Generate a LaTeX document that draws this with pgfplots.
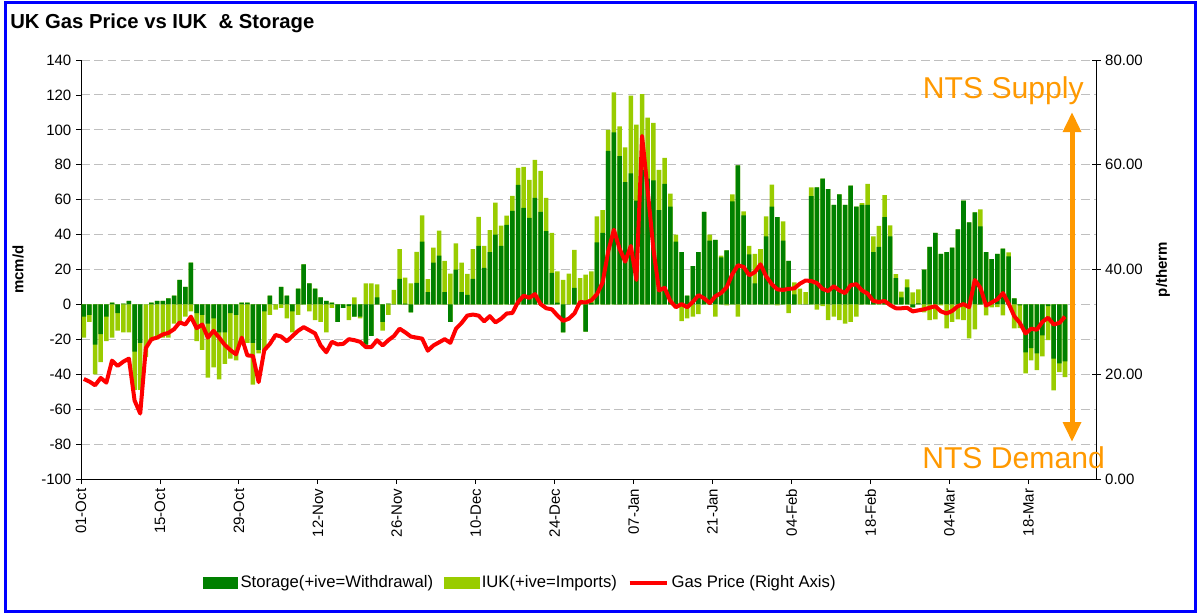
\documentclass[border=0pt]{standalone}
\usepackage{pgfplots}
\pgfplotsset{compat=1.18}
\usepackage{pgfplotstable}
\usepackage{fontspec}
\setmainfont{Liberation Sans}
\usetikzlibrary{arrows.meta}

\definecolor{stor}{RGB}{0,128,0}
\definecolor{iuk}{RGB}{153,204,0}
\definecolor{nts}{RGB}{255,153,0}
\definecolor{framecol}{RGB}{0,0,255}

% d = day from 01-Oct, S = storage, I = IUK (mcm/d), P = price (p/therm)
\pgfplotstableread{
d S I P
0 -7 -12 19.1
1 -6 -4 18.6
2 -23 -17 17.9
3 -17 -16 19.3
4 -7 -14 18.4
5 1 -19 22.6
6 -5 -10 21.6
7 0.5 -16 22.4
8 2 -16 23.0
9 -27 -22 15.0
10 -22 -27 12.5
11 0 -30 25.0
12 1 -21 26.7
13 2 -20 27.0
14 2 -19 27.6
15 3.5 -19 27.9
16 5 -11 28.6
17 14 -11 29.9
18 10 -7 29.5
19 24 -4 31.0
20 -5 -16 28.8
21 -6 -20 29.5
22 -11 -31 27.0
23 -8 -28 28.3
24 -16 -27 27.0
25 -16 -18 25.6
26 -5 -26 24.6
27 -6 -26 23.8
28 1 -19 27.0
29 1 -22 23.6
30 -22 -24 23.5
31 -26 -2 18.5
32 -4 -22 24.6
33 5 -6 25.8
34 0 -3 27.5
35 10 -2 27.2
36 5 -8 26.3
37 -4 -12 27.3
38 9 -6 28.3
39 23 0 29.0
40 12 -4 28.4
41 9 -9 27.8
42 4 -10 25.5
43 2 -16 24.2
44 1 -2 26.2
45 -10 0 25.7
46 -2 0 25.8
47 -1 -8 26.7
48 -7 4 26.5
49 -7 -1 26.2
50 -23 12 25.2
51 -18 12 25.2
52 4 7.5 26.5
53 -10 -5 25.5
54 0.4 -6 26.5
55 0 8.4 27.3
56 14.7 17 28.7
57 0.4 15 28.0
58 -4.6 12 27.2
59 12.4 17.7 27.0
60 36 15 26.8
61 7 7.5 24.5
62 24 8.6 25.5
63 28 14.3 26.1
64 7 18 26.7
65 -10 17.6 26.0
66 20 15 28.7
67 7 17 29.8
68 5.5 12 31.2
69 14.7 17 31.4
70 33.6 16.6 31.2
71 21 12.6 30.1
72 30 12.6 31.1
73 40 18.3 29.9
74 33.6 11.5 30.6
75 45.6 5.2 31.6
76 53.6 8.6 31.7
77 68.5 9.7 33.8
78 55.3 23.5 35.0
79 49.6 21.8 34.6
80 61 21.8 35.3
81 53 23.5 33.4
82 42 19 32.6
83 18 23 32.4
84 1 18 31.2
85 -16 14 30.2
86 0 17.6 30.6
87 9.5 21.8 31.6
88 0 15 33.8
89 -15.6 17 33.7
90 1 18 34.1
91 35.5 15 35.3
92 41 13 37.5
93 88 12 43.5
94 98.5 23 47.6
95 85 17 44.0
96 70 20 41.5
97 75 44.6 44.5
98 59.5 43.5 38.0
99 77 43.5 65.5
100 72 35 55.0
101 71 33 44.0
102 54 23 36.0
103 69 15 36.5
104 56 7.4 34.0
105 36 4 32.8
106 30 -9.5 33.4
107 5 -8 32.8
108 22 -7 33.8
109 30 -5.5 35.1
110 53 0 34.5
111 36.6 3.4 33.6
112 37 -7 34.9
113 27 1 35.5
114 31 -0.5 36.6
115 59 4 39.1
116 79.6 -7 40.8
117 51 2.3 40.5
118 28.6 5 38.9
119 12 17 39.5
120 22 9.7 41.0
121 39 11.5 38.7
122 56 12.6 37.2
123 50 -0.5 36.2
124 36.6 11 36.1
125 25 -5 36.3
126 5.7 7 36.4
127 0 9 37.3
128 0 7 37.9
129 62 5 37.8
130 67 -3 37.4
131 72 -1 36.3
132 66 -9 35.9
133 57 -7 36.8
134 63 -9 36.0
135 57 -11 35.5
136 68 -10 37.0
137 56 -7 37.2
138 57 1 36.0
139 57 12 35.4
140 30 9 34.0
141 33 12 33.8
142 50 12.6 34.0
143 39 6.3 33.2
144 15 2.3 32.6
145 4 3.4 32.6
146 9.7 4.6 32.7
147 -1.7 6.9 32.0
148 0.6 8 32.2
149 20 -4.6 32.4
150 33 -9 32.7
151 41 -8.6 33.0
152 29 -0.6 32.0
153 30 -13.7 31.6
154 32.6 -10 32.1
155 43 -8.6 33.0
156 59.5 -9 33.4
157 47 -19.5 32.8
158 52.7 -14.3 38.0
159 44.7 9.7 36.5
160 30 -6.3 33.1
161 26 -1.7 33.7
162 29 -1.5 34.3
163 32 -6.3 35.5
164 27.5 2.3 33.5
165 3.4 -13.7 31.1
166 -0.6 -13 29.8
167 -27.5 -12 27.8
168 -25 -7 28.7
169 -28 -9.7 28.5
170 -17.7 -12 30.0
171 -1 -19.5 30.8
172 -31 -18.3 29.5
173 -33.8 -5 29.8
174 -32.6 -9 31.0
}\flows

\pgfplotsset{
  gasbase/.style={
    at={(60.75pt,-359.25pt)}, anchor=south west,
    scale only axis, width=761.25pt, height=314.25pt,
    xmin=0, xmax=180,
    tick label style={font=\fontsize{11.25}{13}\selectfont},
    /pgf/number format/assume math mode=true,
    tick style={black, line width=0.6pt},
    axis line style={black, line width=0.75pt},
  },
  bars/.style={ybar, bar width=0.8, bar shift=0pt, draw=none, forget plot},
}

\begin{document}
\begin{tikzpicture}
\useasboundingbox (0,0) rectangle (898.5pt,-460.5pt);

\begin{axis}[gasbase,
  ymin=-100, ymax=140, ytick={-100,-80,...,140},
  axis x line*=bottom, axis y line*=left,
  tick align=outside, major tick length=3.75pt,
  xtick={0,14,...,168},
  xticklabels={01-Oct,15-Oct,29-Oct,12-Nov,26-Nov,10-Dec,24-Dec,07-Jan,21-Jan,04-Feb,18-Feb,04-Mar,18-Mar},
  xticklabel style={rotate=90, anchor=east},
  ymajorgrids,
  major grid style={gray!50, line width=0.75pt, dash pattern=on 6.5pt off 3.5pt},
  ylabel={mcm/d},
  every axis y label/.style={at={(axis description cs:-0.062,0.5)}, rotate=90, anchor=center,
    font=\bfseries\fontsize{11.25}{13}\selectfont},
]
\addplot[bars, fill=iuk] table[x expr=\thisrow{d}+0.5, y expr={max(\thisrow{S},0)+max(\thisrow{I},0)}]{\flows};
\addplot[bars, fill=stor] table[x expr=\thisrow{d}+0.5, y expr={max(\thisrow{S},0)}]{\flows};
\addplot[bars, fill=iuk] table[x expr=\thisrow{d}+0.5, y expr={min(\thisrow{S},0)+min(\thisrow{I},0)}]{\flows};
\addplot[bars, fill=stor] table[x expr=\thisrow{d}+0.5, y expr={min(\thisrow{S},0)}]{\flows};
\end{axis}

\begin{axis}[gasbase,
  ymin=0, ymax=80, ytick={0,20,...,80},
  axis x line=none, axis y line*=right,
  tick align=center, major tick length=6.75pt,
  scaled y ticks=false,
  yticklabel style={/pgf/number format/.cd, fixed, fixed zerofill, precision=2},
  ylabel={p/therm},
  every axis y label/.style={at={(axis description cs:1.066,0.5)}, rotate=90, anchor=center,
    font=\bfseries\fontsize{11.25}{13}\selectfont},
  legend style={at={(axis description cs:0.433,-0.248)}, anchor=center, draw=none,
    legend columns=3, font=\fontsize{12.5}{14}\selectfont,
    /tikz/every even column/.append style={column sep=6pt}},
]
\addlegendimage{legend image code/.code={\fill[stor] (0pt,-4pt) rectangle (26pt,4pt);}}
\addlegendentry{Storage(+ive=Withdrawal)}
\addlegendimage{legend image code/.code={\fill[iuk] (0pt,-4pt) rectangle (26pt,4pt);}}
\addlegendentry{IUK(+ive=Imports)}
\addplot[red, line width=3pt, line join=round,
  legend image code/.code={\draw[red, line width=3pt] (0pt,0pt) -- (28pt,0pt);}]
  table[x expr=\thisrow{d}+0.5, y=P]{\flows};
\addlegendentry{Gas Price (Right Axis)}
\end{axis}

\draw[nts, line width=3.75pt, {Triangle[width=13pt,length=15pt]}-{Triangle[width=13pt,length=15pt]}]
  (804pt,-84pt) -- (804pt,-331.5pt);
\node[anchor=base west, text=nts, font=\fontsize{22.6}{26}\selectfont, inner sep=0pt]
  at (692pt,-73.5pt) {NTS Supply};
\node[anchor=base west, text=nts, font=\fontsize{22.6}{26}\selectfont, inner sep=0pt]
  at (691.5pt,-351.5pt) {NTS Demand};

\node[anchor=base west, font=\bfseries\fontsize{15.2}{18}\selectfont, inner sep=0pt]
  at (7.5pt,-21pt) {UK Gas Price vs IUK\ \ \& Storage};
\draw[framecol, line width=2.25pt] (3.75pt,-1.5pt) rectangle (896.25pt,-458.25pt);
\end{tikzpicture}
\end{document}
